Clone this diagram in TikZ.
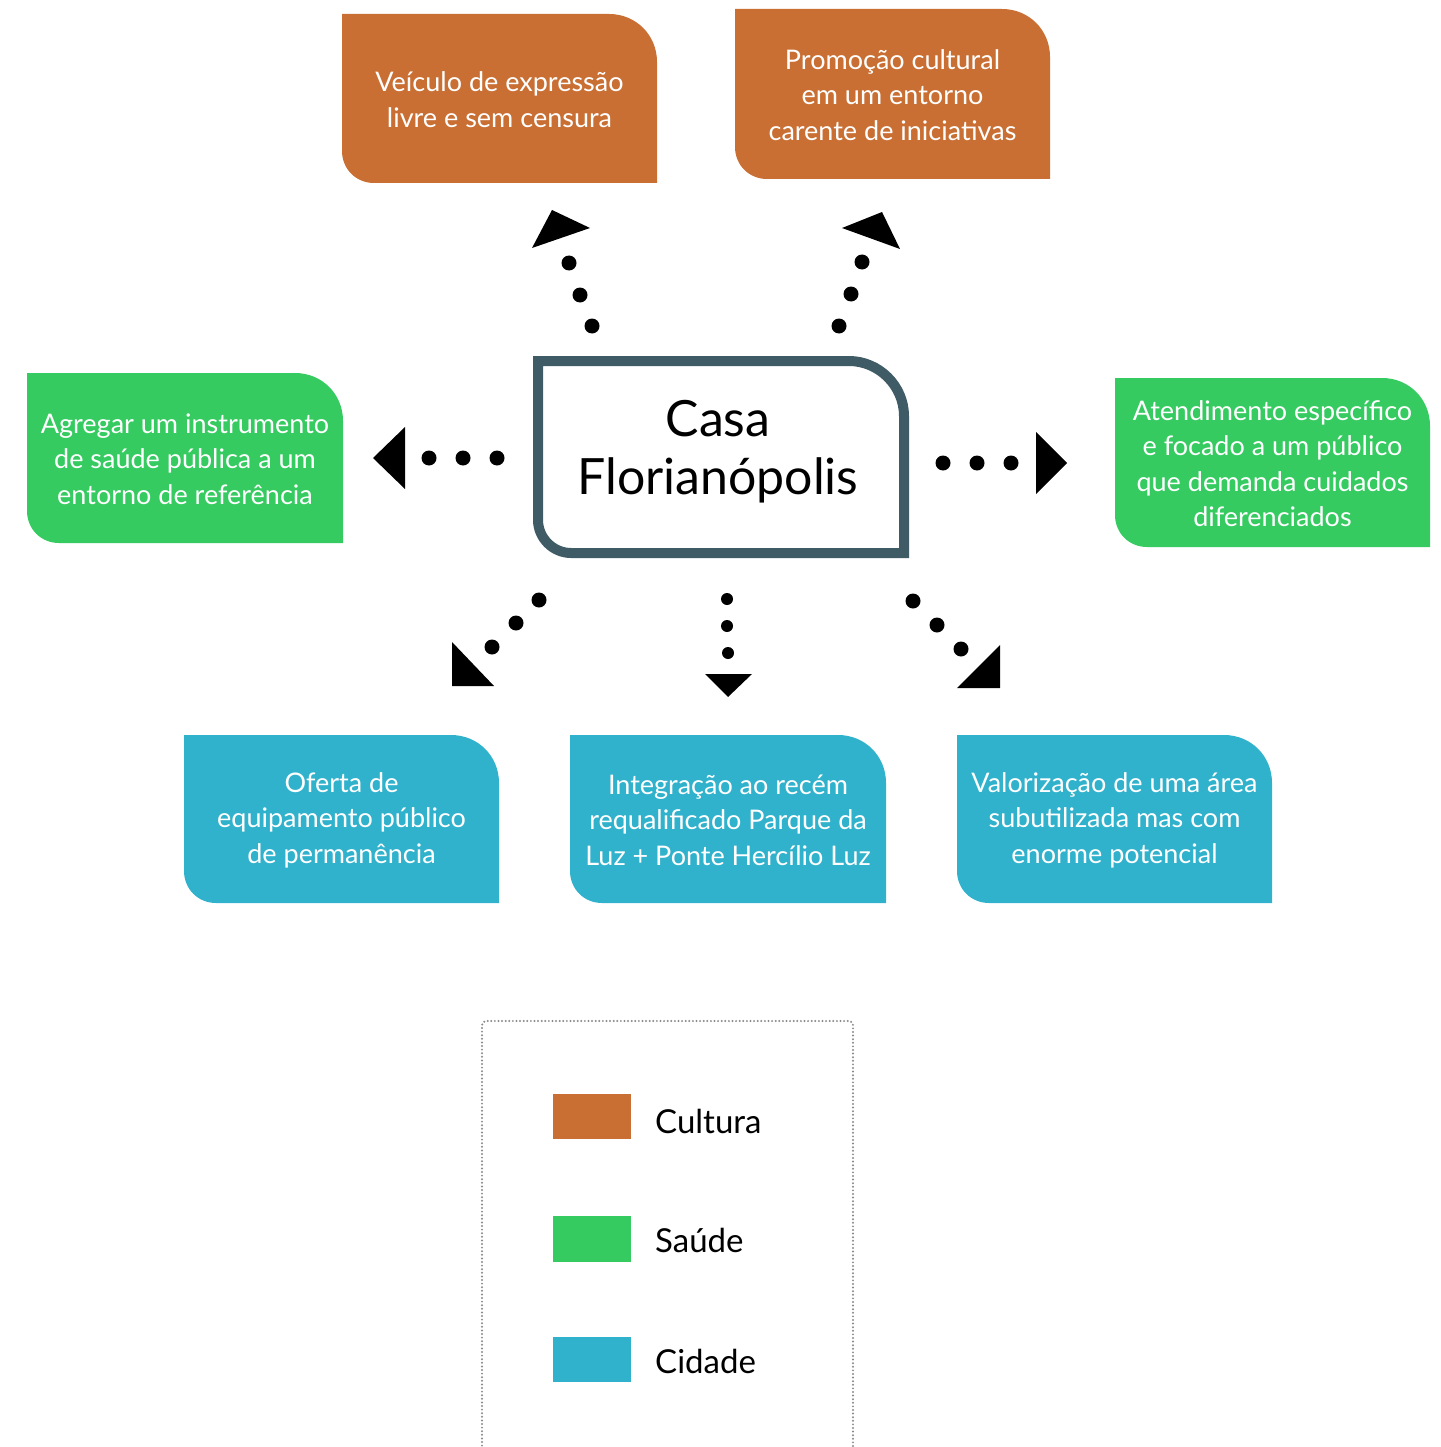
\documentclass[tikz,border=0pt]{standalone}
\usepackage{fontspec}
\setmainfont{Lato}
\definecolor{cultura}{HTML}{C96F33}
\definecolor{saude}{HTML}{35CB61}
\definecolor{cidade}{HTML}{31B2CC}
\definecolor{frame}{HTML}{3F5B66}
\definecolor{legframe}{HTML}{8A8A8A}
\tikzset{
  boxtext/.style={text=white, align=center, inner sep=0pt, font=\fontsize{27}{35.5}\selectfont},
  mainttext/.style={text=black, align=center, inner sep=0pt, font=\fontsize{50}{58}\selectfont},
  legtext/.style={text=black, anchor=west, inner sep=0pt, font=\fontsize{33}{40}\selectfont},
  dotf/.style={fill=black},
  tip/.style={fill=black}
}
% name, x1, y1, x2, y2, colour, text
\newcommand\catbox[7]{%
  \fill[#6] (#2,#3) -- ({#4-48},#3) .. controls ({#4-21},#3) and (#4,{#3+21}) .. (#4,{#3+48})
    -- (#4,#5) -- ({#2+32},#5) .. controls ({#2+14},#5) and (#2,{#5-14}) .. (#2,{#5-32}) -- cycle;
  \node[boxtext] (#1) at ({(#2+#4)/2},{(#3+#5)/2+1}) {#7};
}
\begin{document}
\begin{tikzpicture}[x=1pt,y=-1pt]
\useasboundingbox (0,0) rectangle (1440,1447);
\clip (0,0) rectangle (1440,1447);

% category boxes
\catbox{c1}{342}{14}{657}{183}{cultura}{Veículo de expressão\\livre e sem censura}
\catbox{c2}{735}{9}{1050}{179}{cultura}{Promoção cultural\\em um entorno\\carente de iniciativas}
\catbox{s1}{27}{373}{343}{543}{saude}{Agregar um instrumento\\de saúde pública a um\\entorno de referência}
\catbox{s2}{1115}{378}{1430}{547}{saude}{Atendimento específico\\e focado a um público\\que demanda cuidados\\diferenciados}
\catbox{d1}{184}{735}{499}{903}{cidade}{Oferta de\\equipamento público\\de permanência}
\catbox{d2}{570}{735}{886}{903}{cidade}{Integração ao recém\\requalificado Parque da\\Luz + Ponte Hercílio Luz}
\catbox{d3}{957}{735}{1272}{903}{cidade}{Valorização de uma área\\subutilizada mas com\\enorme potencial}

% central box
\filldraw[fill=white, draw=frame, line width=10pt]
  (538,361) -- (849,361) .. controls (879,361) and (904,386) .. (904,416)
  -- (904,553) -- (571,553) .. controls (553,553) and (538,538) .. (538,520) -- cycle;
\node[mainttext] (casa) at (718,452) {Casa\\Florianópolis};

% dotted connectors
% left
\foreach \x in {429,463,497} \fill[dotf] (\x,458) circle[radius=7.5pt];
\fill[tip] (373,458) -- (405,427) -- (405,489) -- cycle;
% right
\foreach \x in {943,977,1011} \fill[dotf] (\x,463) circle[radius=7.5pt];
\fill[tip] (1067,463) -- (1036,432) -- (1036,494) -- cycle;
% top-left
\foreach \p in {(592,326),(580,295),(569,263)} \fill[dotf] \p circle[radius=7.5pt];
\fill[tip] (552,210) -- (532,248) -- (590,228) -- cycle;
% top-right
\foreach \p in {(839,326),(851,294),(862,262)} \fill[dotf] \p circle[radius=7.5pt];
\fill[tip] (882,212) -- (842,228) -- (900,249) -- cycle;
% bottom-left
\foreach \p in {(539,600),(516,623),(492,647)} \fill[dotf] \p circle[radius=7.5pt];
\fill[tip] (452,686) -- (452,642) -- (494,686) -- cycle;
% bottom
\foreach \p in {(727,599),(727,626),(728,653)} \fill[dotf] \p circle[radius=6pt];
\fill[tip] (728,697) -- (705,674) -- (752,674) -- cycle;
% bottom-right
\foreach \p in {(913,601),(937,625),(961,649)} \fill[dotf] \p circle[radius=7.5pt];
\fill[tip] (1000,688) -- (1000,645) -- (957,688) -- cycle;

% legend
\draw[legframe, line width=2.2pt, dash pattern=on 0pt off 3.6pt, line cap=round, rounded corners=4pt]
  (482,1460) -- (482,1021) -- (853,1021) -- (853,1460);
\fill[cultura] (553,1094) rectangle (631,1139);
\fill[saude] (553,1216) rectangle (631,1262);
\fill[cidade] (553,1337) rectangle (631,1382);
\node[legtext] (lc) at (655,1121) {Cultura};
\node[legtext] (ls) at (655,1240) {Saúde};
\node[legtext] (ld) at (655,1361) {Cidade};
\end{tikzpicture}
\end{document}
